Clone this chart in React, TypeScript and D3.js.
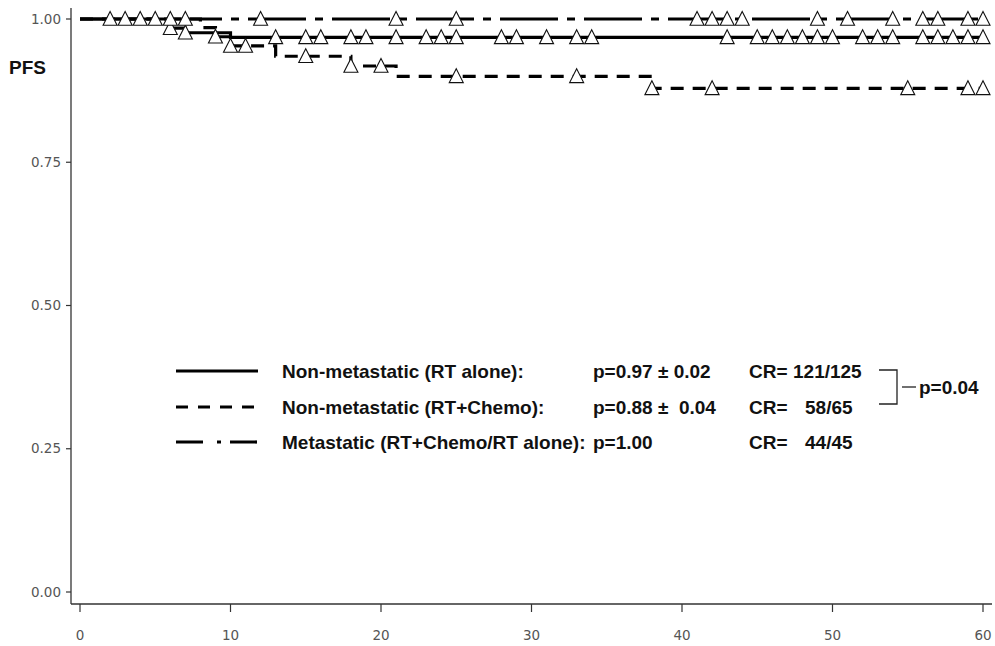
import React from 'react';
import * as d3 from 'd3';

const W = 995;
const H = 646;

// Kaplan-Meier steps (month, PFS)
const rtAloneTimes = [0, 6, 7, 10, 60];
const rtAloneValues = [1.0, 0.984, 0.976, 0.968, 0.968];
const rtChemoTimes = [0, 8, 9, 10, 13, 18, 21, 38, 60];
const rtChemoValues = [1.0, 0.985, 0.969, 0.953, 0.935, 0.918, 0.9, 0.879, 0.879];
const metaTimes = [0, 60];
const metaValues = [1.0, 1.0];

// censor marks (months)
const rtAloneCensor = [6, 7, 13, 15, 16, 18, 19, 21, 23, 24, 25, 28, 29, 31, 33, 34, 43, 45, 46, 47, 48, 49, 50, 52, 53, 54, 56, 57, 58, 59, 60];
const rtChemoCensor = [9, 10, 11, 15, 18, 20, 25, 33, 38, 42, 55, 59, 60];
const metaCensor = [2, 3, 4, 5, 6, 7, 12, 21, 25, 41, 42, 43, 44, 49, 51, 54, 56, 57, 59, 60];

const xTicks = [0, 10, 20, 30, 40, 50, 60];
const yTicks = [0, 0.25, 0.5, 0.75, 1.0];

const legendLabels = ['Non-metastatic (RT alone):', 'Non-metastatic (RT+Chemo):', 'Metastatic (RT+Chemo/RT alone):'];
const legendP = ['p=0.97 \u00b1 0.02', 'p=0.88 \u00b1  0.04', 'p=1.00'];
const legendCRnum = ['121/125', '58/65', '44/45'];

const x = d3.scaleLinear().domain([0, 60]).range([80, 983]);
const y = d3.scaleLinear().domain([0, 1]).range([592, 19]);

function valueAt(times: number[], values: number[], t: number) {
  let v = values[0];
  for (let i = 0; i < times.length; i++) if (times[i] <= t) v = values[i];
  return v;
}

const stepLine = d3
  .line<[number, number]>()
  .x((d) => x(d[0]))
  .y((d) => y(d[1]))
  .curve(d3.curveStepAfter);

const tri = 'M0,-7.5L7,6.3L-7,6.3Z';

type Series = { times: number[]; values: number[]; censor: number[]; dash: string };

const series: Series[] = [
  { times: rtChemoTimes, values: rtChemoValues, censor: rtChemoCensor, dash: '13,9' },
  { times: rtAloneTimes, values: rtAloneValues, censor: rtAloneCensor, dash: 'none' },
  { times: metaTimes, values: metaValues, censor: metaCensor, dash: '58,9,8,9' },
];

export default function App() {
  const axisColor = '#333';
  const tickFont = '"DejaVu Sans", sans-serif';
  const boldFont = '"Liberation Sans", Arial, sans-serif';
  const legendY = [371, 407, 442];
  const legendDash = ['none', '12,10', '27,14,4,9'];
  const fs = 19;
  return (
    <svg width={W} height={H} style={{ position: 'absolute', left: 0, top: 0, background: '#fff' }}>
      <rect x={0} y={0} width={W} height={H} fill="#fff" />
      {/* axes */}
      <line x1={71} y1={8} x2={71} y2={604} stroke={axisColor} strokeWidth={1.3} />
      <line x1={71} y1={604} x2={992} y2={604} stroke={axisColor} strokeWidth={1.3} />
      {yTicks.map((t) => (
        <g key={'y' + t}>
          <line x1={66} x2={71} y1={y(t)} y2={y(t)} stroke={axisColor} strokeWidth={1.2} />
          <text x={61} y={y(t)} dy="0.35em" textAnchor="end" fontFamily={tickFont} fontSize={13.5} fill="#555">
            {t.toFixed(2)}
          </text>
        </g>
      ))}
      {xTicks.map((t) => (
        <g key={'x' + t}>
          <line x1={x(t)} x2={x(t)} y1={604} y2={612} stroke={axisColor} strokeWidth={1.2} />
          <text x={x(t)} y={635} dy="0.35em" textAnchor="middle" fontFamily={tickFont} fontSize={13.5} fill="#555">
            {t}
          </text>
        </g>
      ))}
      <text x={9} y={67} dy="0.35em" fontFamily={boldFont} fontWeight="bold" fontSize={19} fill="#111">
        PFS
      </text>

      {/* curves */}
      {series.map((s, i) => {
        const pts = s.times.map((t, j) => [t, s.values[j]] as [number, number]);
        return (
          <path
            key={'c' + i}
            d={stepLine(pts) || ''}
            fill="none"
            stroke="#000"
            strokeWidth={3.2}
            strokeDasharray={s.dash}
          />
        );
      })}
      {series.map((s, i) =>
        s.censor.map((t, j) => (
          <path
            key={'m' + i + '-' + j}
            d={tri}
            transform={`translate(${x(t)},${y(valueAt(s.times, s.values, t))})`}
            fill="#fff"
            stroke="#111"
            strokeWidth={1.1}
          />
        ))
      )}

      {/* legend */}
      {legendLabels.map((lab, i) => (
        <g key={'l' + i}>
          <line
            x1={176}
            x2={258}
            y1={legendY[i]}
            y2={legendY[i]}
            stroke="#000"
            strokeWidth={3.2}
            strokeDasharray={legendDash[i]}
          />
          <text x={282} y={legendY[i]} dy="0.35em" fontFamily={boldFont} fontWeight="bold" fontSize={fs} fill="#111">
            {lab}
          </text>
          <text x={593} y={legendY[i]} dy="0.35em" fontFamily={boldFont} fontWeight="bold" fontSize={fs} fill="#111" style={{ whiteSpace: 'pre' }}>
            {legendP[i]}
          </text>
          <text x={749} y={legendY[i]} dy="0.35em" fontFamily={boldFont} fontWeight="bold" fontSize={fs} fill="#111">
            CR=
          </text>
          <text x={i === 0 ? 793 : 805} y={legendY[i]} dy="0.35em" fontFamily={boldFont} fontWeight="bold" fontSize={fs} fill="#111">
            {legendCRnum[i]}
          </text>
        </g>
      ))}
      <path d="M879,370 L897,370 L897,404 L879,404" fill="none" stroke="#222" strokeWidth={1.3} />
      <line x1={902} x2={916} y1={387} y2={387} stroke="#222" strokeWidth={1.3} />
      <text x={919} y={387} dy="0.35em" fontFamily={boldFont} fontWeight="bold" fontSize={fs} fill="#111">
        p=0.04
      </text>
    </svg>
  );
}
